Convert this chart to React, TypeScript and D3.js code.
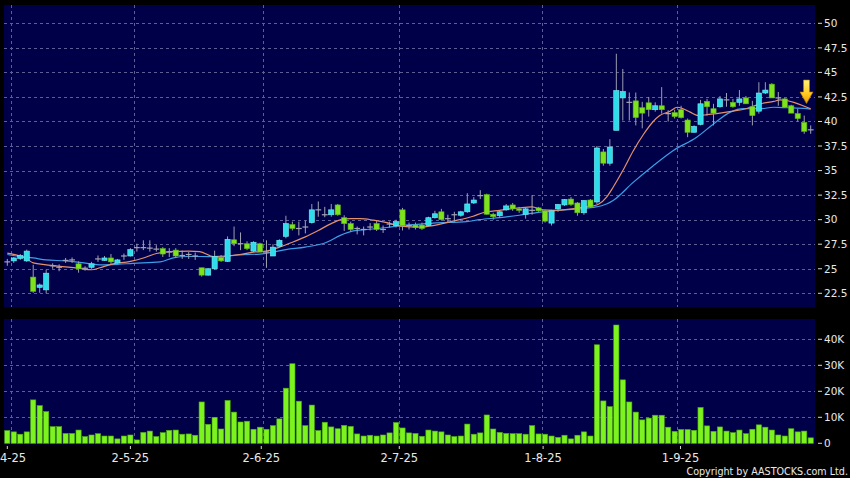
import React from 'react';
import * as d3 from 'd3';

const opens = [25.7,25.8,26.05,25.8,24.15,23.1,22.85,25.3,25.15,25.85,25.9,25.5,25.05,25.15,26.0,25.85,26.1,25.6,26.3,26.3,27.15,27.15,27.1,27.0,27.05,26.7,26.9,26.35,26.45,26.3,25.1,24.35,25.0,26.15,25.75,27.95,27.55,27.55,26.8,27.55,26.7,26.3,27.3,28.3,29.5,29.1,29.25,29.7,31.0,30.5,30.5,31.5,30.2,29.6,29.1,29.0,29.25,29.6,29.0,29.55,29.4,31.0,29.4,29.45,29.45,29.4,30.2,30.8,30.1,30.5,30.45,30.8,31.7,32.45,32.55,30.55,30.4,31.0,31.5,31.1,30.55,30.95,31.2,30.9,29.65,31.1,31.5,32.1,31.7,30.7,32.0,31.8,36.9,35.75,39.1,42.4,41.95,42.1,41.4,41.9,41.2,41.6,40.8,40.9,41.2,40.15,38.9,39.7,42.05,41.3,41.5,42.2,41.95,41.95,42.4,41.5,41.05,42.9,43.8,42.4,42.3,41.6,40.8,39.9,39.15];
const highs = [26.0,26.2,26.5,26.95,25.4,23.5,24.9,25.55,25.45,26.1,26.15,25.75,25.25,25.7,26.35,26.3,26.5,26.0,26.55,27.1,27.55,27.9,27.9,27.4,27.2,27.1,27.1,26.85,26.7,26.65,25.1,25.05,26.85,26.4,28.3,29.3,28.7,27.8,27.8,27.65,27.9,27.5,28.0,30.4,29.8,29.8,29.9,31.6,31.85,31.3,31.6,31.6,30.45,29.8,29.3,29.3,29.65,29.85,29.4,29.8,30.0,31.2,29.7,29.7,29.7,30.3,30.9,31.1,30.5,30.8,30.9,32.7,32.3,33.0,32.65,30.7,30.9,31.6,31.7,31.3,31.2,32.5,31.3,31.0,31.0,31.6,32.1,32.3,31.8,32.0,32.1,37.5,37.2,38.2,46.9,45.35,42.95,42.95,42.0,42.5,41.95,43.5,41.15,41.2,41.6,40.3,39.6,42.2,42.3,41.8,42.6,42.9,42.3,43.2,42.6,42.1,44.0,44.0,43.9,43.0,42.4,41.7,41.3,40.6,39.6];
const lows = [25.3,25.6,25.9,25.7,22.55,22.55,22.5,25.0,24.75,25.6,25.6,24.6,24.8,25.0,25.7,25.8,25.5,25.5,25.9,26.25,26.75,26.9,26.75,26.75,26.2,26.2,26.1,26.0,26.0,25.9,24.2,24.3,24.9,25.7,25.7,27.3,26.9,26.9,26.7,26.7,25.1,26.3,27.2,28.1,28.9,28.4,28.6,29.6,30.3,30.25,30.3,30.4,28.85,28.8,28.5,28.4,28.9,28.85,28.65,29.2,29.2,28.9,29.0,29.0,28.95,29.3,30.1,29.9,29.7,29.8,30.3,30.7,31.6,32.1,30.5,30.0,30.2,30.9,30.9,30.7,30.1,30.5,30.8,29.7,29.4,30.8,31.4,31.4,30.4,30.5,31.2,31.6,35.5,35.5,39.1,40.1,40.1,39.6,39.3,40.5,41.0,40.8,40.0,40.3,40.3,38.4,38.9,39.6,40.6,39.6,41.4,41.5,41.4,41.6,41.8,39.6,40.8,42.8,42.4,41.6,41.4,40.85,40.0,38.75,38.75];
const closes = [25.7,26.1,26.35,26.8,22.7,23.35,24.55,25.3,25.15,25.85,25.9,25.0,25.05,25.5,26.0,26.1,25.7,25.9,26.3,26.95,27.15,27.15,27.1,27.0,26.5,26.7,26.3,26.35,26.45,26.3,24.35,25.0,26.25,25.8,28.0,27.55,27.55,27.05,27.7,26.7,26.7,27.2,27.9,29.6,29.1,29.1,29.25,31.0,31.0,30.5,31.0,30.5,29.6,29.0,29.1,29.0,29.25,29.0,29.0,29.55,29.8,29.4,29.4,29.2,29.1,30.2,30.6,30.0,30.1,30.5,30.8,31.6,32.0,32.45,30.55,30.3,30.8,31.4,31.1,30.95,31.1,30.95,30.9,29.85,30.9,31.55,32.05,31.55,30.7,31.95,31.3,37.3,35.75,37.4,43.15,43.05,41.95,40.4,40.85,41.2,41.6,41.2,40.8,40.5,40.4,38.9,39.5,41.8,41.5,40.85,42.3,42.2,41.5,42.3,41.8,40.6,42.9,43.2,42.4,42.4,41.45,40.85,40.3,39.0,39.15];
// volume in thousands
const volumes = [4.9,4.4,3.5,4.4,16.7,14.5,12.2,6.4,6.4,3.8,3.8,5.1,2.6,3.2,3.7,2.8,2.8,1.7,2.8,3.2,1.3,4.2,4.7,2.6,4.1,5.0,5.1,3.5,3.6,3.1,15.9,7.3,10.0,5.5,16.5,12.0,8.2,8.5,5.4,6.2,5.4,6.8,9.4,21.2,30.6,16.2,6.8,14.7,4.9,8.1,6.3,5.6,6.9,6.5,3.6,2.8,3.1,2.8,3.2,4.0,8.0,5.9,4.0,3.8,2.7,5.1,4.7,4.4,3.2,2.6,2.8,7.4,3.5,4.0,10.9,5.5,4.2,3.8,3.7,3.7,3.5,6.8,3.6,3.5,2.8,2.3,3.1,1.7,3.1,4.4,2.8,37.9,16.3,14.1,45.5,24.4,15.9,12.0,9.0,9.7,10.8,10.8,6.2,4.6,5.3,5.3,5.0,13.8,6.7,4.6,6.3,4.7,4.1,5.1,3.7,5.4,7.1,6.2,5.1,3.2,2.8,5.6,4.4,4.7,2.1];

// moving averages: [bar position, value]
const maFastPos = [0,2,3,4,6,9,11,13,14.3,16,19,21,23,25,28,29.7,31.8,33.8,35.9,38,40,42,44,46,48,50,51.5,53,54.5,56.5,58.6,60.6,63.7,65.7,68.8,71.9,73.4,76,79,81,82.6,84.6,87.2,89.3,90.4,91.3,92.5,93.5,95,96.6,98.2,99.7,100.7,102.3,103.4,104.3,105.4,106.7,108,110,112,114,116.2,118.3,119.3,121.4,123.4,124];
const maFastVal = [26.6,26.3,26.0,25.6,25.4,25.2,25.05,24.9,25.1,25.45,25.75,26.1,26.55,26.75,26.8,26.75,26.25,26.3,26.45,26.7,26.8,27.2,27.7,28.25,28.9,29.6,30.0,30.1,30.1,29.95,29.7,29.35,29.25,29.4,29.85,30.35,30.7,30.95,31.2,31.3,31.0,30.95,31.1,31.3,31.4,31.6,32.3,33.3,35.0,37.0,38.7,40.0,40.6,41.05,41.45,41.3,40.95,40.6,40.7,40.85,41.05,41.3,41.8,42.05,42.2,41.95,41.45,41.3];
const maSlowPos = [0,2,4,6,9,12.3,14.3,17,19.4,23.6,25.6,27.7,29.7,32.8,35.9,39,41,43,46,49.3,51.4,53.4,55.5,58.6,60.6,63.8,65.7,70.9,72.9,76,79,82,85,88.3,90.4,92.5,93.5,96.6,99.7,102.8,106.4,109,111.6,113.6,116.2,118.3,120.3,123.4,124];
const maSlowVal = [26.45,26.25,26.1,25.9,25.8,25.55,25.4,25.45,25.55,25.7,26.1,26.25,26.25,26.22,26.42,26.5,26.7,26.95,27.2,27.7,28.4,28.85,29.0,29.2,29.4,29.55,29.65,29.8,30.0,30.2,30.45,30.75,30.95,31.1,31.25,31.6,31.95,33.8,35.5,37.05,38.4,39.75,40.95,41.3,41.3,41.45,41.4,41.3,41.25];

const priceTicks = [22.5,25,27.5,30,32.5,35,37.5,40,42.5,45,47.5,50];
const volTicks = [0,10,20,30,40];
const volTickLabels = ['0','10K','20K','30K','40K'];
const dateLabels = ['1-4-25','2-5-25','2-6-25','2-7-25','1-8-25','1-9-25'];
const dateLabelPos = [0,19,39.2,60.5,82.7,103.9];
const dateGridPos = [0.5,19.5,39.5,60.5,82.5,103.4];

const FONT = '"DejaVu Sans", Verdana, sans-serif';

export default function App() {
  const W = 850, H = 478;
  const pL = 4, pR = 815, pT = 5, pB = 307;
  const vT = 319, vB = 444.5;
  const x = d3.scaleLinear().domain([0, 124]).range([7.3, 810.7]);
  const yP = d3.scaleLinear().domain([22.5, 50]).range([293.3, 23.3]);
  const yV = d3.scaleLinear().domain([0, 40]).range([443.3, 339.3]);
  const bw = 5.2;
  const gridColor = '#5e5e96';
  const dash = '3,3';

  const lineGen = d3.line<number>()
    .x((d) => x(d))
    .y((_, i) => 0)
    .curve(d3.curveMonotoneX);

  const fastPath = d3.line<number>().x((d) => x(maFastPos[d])).y((d) => yP(maFastVal[d])).curve(d3.curveMonotoneX)(d3.range(maFastPos.length));
  const slowPath = d3.line<number>().x((d) => x(maSlowPos[d])).y((d) => yP(maSlowVal[d])).curve(d3.curveMonotoneX)(d3.range(maSlowPos.length));
  void lineGen;

  const up = '#2fdcea';
  const down = '#7fe21e';
  const doji = '#a4a4b4';
  const wick = '#9c9cae';

  return (
    <svg width={W} height={H} style={{ position: 'absolute', left: 0, top: 0, display: 'block' }} xmlns="http://www.w3.org/2000/svg">
      <defs>
        <linearGradient id="arrowGrad" x1="0" y1="0" x2="0" y2="1">
          <stop offset="0" stopColor="#fff27a" />
          <stop offset="0.6" stopColor="#ffc81e" />
          <stop offset="1" stopColor="#e89a00" />
        </linearGradient>
      </defs>
      <rect x={0} y={0} width={W} height={H} fill="#000000" />
      <rect x={pL} y={pT} width={pR - pL} height={pB - pT} fill="#000048" />
      <rect x={pL} y={vT} width={pR - pL} height={vB - vT} fill="#000048" />

      {/* price grid */}
      {priceTicks.map((p) => (
        <line key={'hp' + p} x1={pL} x2={pR} y1={Math.round(yP(p)) + 0.5} y2={Math.round(yP(p)) + 0.5} stroke={gridColor} strokeDasharray={dash} strokeWidth={1} />
      ))}
      {dateGridPos.map((d, i) => (
        <line key={'vp' + i} x1={Math.round(x(d)) + 0.5} x2={Math.round(x(d)) + 0.5} y1={pT} y2={pB} stroke={gridColor} strokeDasharray={dash} strokeWidth={1} />
      ))}
      {/* volume grid */}
      {volTicks.slice(1).map((v) => (
        <line key={'hv' + v} x1={pL} x2={pR} y1={Math.round(yV(v)) + 0.5} y2={Math.round(yV(v)) + 0.5} stroke={gridColor} strokeDasharray={dash} strokeWidth={1} />
      ))}
      {dateGridPos.map((d, i) => (
        <line key={'vv' + i} x1={Math.round(x(d)) + 0.5} x2={Math.round(x(d)) + 0.5} y1={vT} y2={vB} stroke={gridColor} strokeDasharray={dash} strokeWidth={1} />
      ))}

      {/* moving averages */}
      <path d={slowPath || ''} fill="none" stroke="#3c9ee6" strokeWidth={1.2} />
      <path d={fastPath || ''} fill="none" stroke="#e4906c" strokeWidth={1.2} />

      {/* candles */}
      {opens.map((o, i) => {
        const c = closes[i];
        const cx = x(i);
        const hi = yP(highs[i]);
        const lo = yP(lows[i]);
        if (Math.abs(c - o) < 0.001) {
          const yy = yP(c);
          return (
            <g key={'c' + i}>
              <line x1={cx} x2={cx} y1={hi} y2={lo} stroke={doji} strokeWidth={1} />
              <line x1={cx - bw / 2 - 0.3} x2={cx + bw / 2 + 0.3} y1={yy} y2={yy} stroke={doji} strokeWidth={1.2} />
            </g>
          );
        }
        const top = yP(Math.max(o, c));
        const bot = yP(Math.min(o, c));
        const col = c > o ? up : down;
        return (
          <g key={'c' + i}>
            <line x1={cx} x2={cx} y1={hi} y2={lo} stroke={wick} strokeWidth={1} />
            <rect x={cx - bw / 2} y={top} width={bw} height={Math.max(1, bot - top)} fill={col} stroke={c > o ? '#78eef6' : '#5cb818'} strokeWidth={0.6} />
          </g>
        );
      })}

      {/* volume bars */}
      {volumes.map((v, i) => (
        <rect key={'v' + i} x={x(i) - bw / 2} y={yV(v)} width={bw} height={yV(0) - yV(v)} fill="#7cf21e" stroke="#4fa814" strokeWidth={0.6} />
      ))}

      {/* arrow */}
      <polygon points="803.5,80 809.5,80 809.5,92 813,92 806.5,103.5 800,92 803.5,92" fill="url(#arrowGrad)" stroke="#b07800" strokeWidth={0.6} />

      {/* price axis */}
      {priceTicks.map((p) => (
        <g key={'pl' + p}>
          <line x1={818} x2={822} y1={yP(p)} y2={yP(p)} stroke="#d8d8d8" strokeWidth={1} />
          <text x={824} y={yP(p)} dy="0.36em" fill="#e8e8e8" fontFamily={FONT} fontSize={10.5}>{p}</text>
        </g>
      ))}
      {/* volume axis */}
      {volTicks.map((v, i) => (
        <g key={'vl' + v}>
          <line x1={818} x2={822} y1={yV(v)} y2={yV(v)} stroke="#d8d8d8" strokeWidth={1} />
          <text x={824} y={yV(v)} dy="0.36em" fill="#e8e8e8" fontFamily={FONT} fontSize={10.5}>{volTickLabels[i]}</text>
        </g>
      ))}
      {/* date axis */}
      {dateLabels.map((t, i) => (
        <g key={'dl' + i}>
          <line x1={x(dateLabelPos[i])} x2={x(dateLabelPos[i])} y1={446} y2={449} stroke="#d8d8d8" strokeWidth={1} />
          <text x={x(dateLabelPos[i])} y={462} textAnchor="middle" fill="#e8e8e8" fontFamily={FONT} fontSize={11.5}>{t}</text>
        </g>
      ))}
      <text x={848} y={475} textAnchor="end" fill="#e8e8e8" fontFamily={FONT} fontSize={9.6}>Copyright by AASTOCKS.com Ltd.</text>
    </svg>
  );
}
